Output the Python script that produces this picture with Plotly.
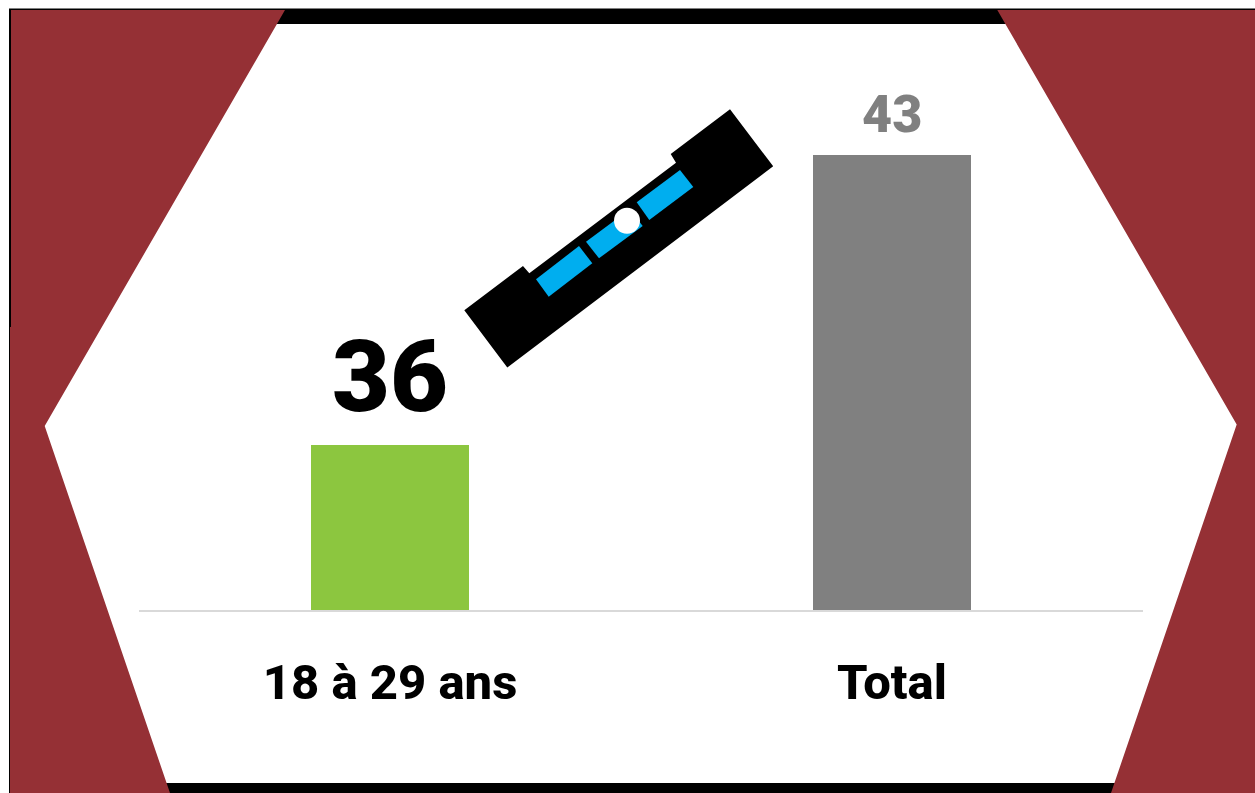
import plotly.graph_objects as go

categories = ["18 à 29 ans", "Total"]
values = [36, 43]
bar_colors = ["#8CC63F", "#808080"]
label_colors = ["#000000", "#808080"]
label_sizes = [100, 52]
label_shifts = [8, 8]

FONT = "Roboto"
W, H = 1247, 785
OFF = 8
RED = "#953035"
BLUE = "#00AEEF"


def px(x):
    return (x - OFF) / W


def py(y):
    return 1 - (y - OFF) / H


def poly(points, fill):
    d = "M " + " L ".join(f"{px(x):.5f},{py(y):.5f}" for x, y in points) + " Z"
    return dict(type="path", xref="paper", yref="paper", path=d,
                fillcolor=fill, line_width=0, layer="below")


def front(shape):
    shape["layer"] = "above"
    return shape


shapes = [
    poly([(9, 8.5), (1255, 8.5), (1255, 793), (9, 793)], "#000000"),
    poly([(11, 24), (1255, 24), (1255, 783), (11, 783)], "#FFFFFF"),
    poly([(11, 10), (285, 10), (44.7, 426), (170, 793), (10, 793), (10, 327), (11, 327)], RED),
    poly([(997.3, 10), (1255, 10), (1255, 793), (1111, 793), (1236.7, 424.5)], RED),
    front(poly([(464.3, 310.3), (523, 266), (529.3, 273.3), (676, 162.7), (670.7, 154),
                (730, 109.3), (773.2, 166.3), (507.3, 367.6)], "#000000")),
    front(poly([(536, 279.3), (579, 246), (592.3, 263.3), (548.7, 296.7)], BLUE)),
    front(poly([(586, 241.7), (629.7, 209.3), (642.7, 226), (599, 258.3)], BLUE)),
    front(poly([(636.7, 202.3), (680, 170), (693.3, 187), (649.3, 220)], BLUE)),
    dict(type="circle", xref="paper", yref="paper", layer="above",
         x0=px(627 - 13), x1=px(627 + 13), y0=py(220.7 + 13), y1=py(220.7 - 13),
         fillcolor="#FFFFFF", line_width=0),
]

fig = go.Figure(go.Bar(x=categories, y=values, marker=dict(color=bar_colors, line_width=0),
                       width=158 / 502, hoverinfo="skip"))

annotations = [
    dict(x=c, y=v, xref="x", yref="y", text=str(v), showarrow=False,
         yanchor="bottom", yshift=s,
         font=dict(family=FONT, size=z, color=col, weight=900))
    for c, v, z, col, s in zip(categories, values, label_sizes, label_colors, label_shifts)
]

fig.update_layout(
    width=W, height=H, margin=dict(l=0, r=0, t=0, b=0),
    paper_bgcolor="rgba(0,0,0,0)", plot_bgcolor="rgba(0,0,0,0)",
    showlegend=False, shapes=shapes, annotations=annotations,
    xaxis=dict(domain=[px(139), px(1143)], range=[-0.5, 1.5], type="category",
               showline=True, linecolor="#D9D9D9", linewidth=2, showgrid=False,
               ticks="", ticklabelstandoff=28,
               tickfont=dict(family=FONT, size=49, color="#000000", weight=800)),
    yaxis=dict(domain=[py(610), py(31)], range=[32.02, 45.99], visible=False),
)

fig.write_html(
    "out.html", config=dict(displayModeBar=False),
    post_script="document.body.style.margin='8px 0 0 8px';"
                "document.documentElement.style.overflow='hidden';",
)
